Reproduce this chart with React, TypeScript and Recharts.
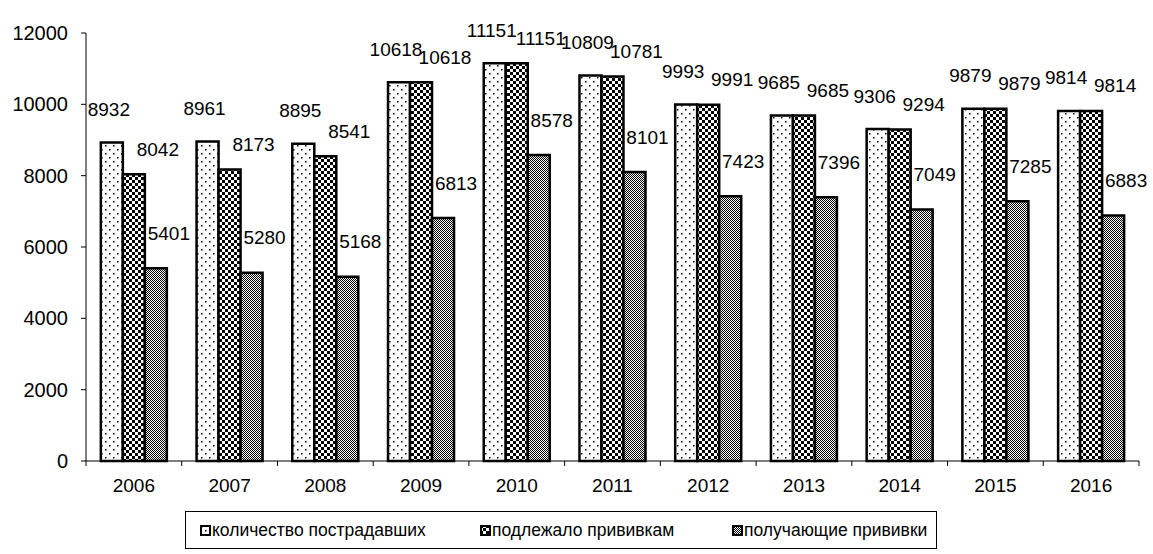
import React from 'react'
import { BarChart, Bar, XAxis, YAxis, LabelList } from 'recharts'

const years = ['2006', '2007', '2008', '2009', '2010', '2011', '2012', '2013', '2014', '2015', '2016']
const injured = [8932, 8961, 8895, 10618, 11151, 10809, 9993, 9685, 9306, 9879, 9814]
const toVaccinate = [8042, 8173, 8541, 10618, 11151, 10781, 9991, 9685, 9294, 9879, 9814]
const vaccinated = [5401, 5280, 5168, 6813, 8578, 8101, 7423, 7396, 7049, 7285, 6883]
const yTicks = [0, 2000, 4000, 6000, 8000, 10000, 12000]
const seriesNames = ['количество пострадавших', 'подлежало прививкам', 'получающие прививки']

const data = years.map((y, i) => ({
  year: y,
  injured: injured[i],
  toVaccinate: toVaccinate[i],
  vaccinated: vaccinated[i],
}))

const W = 1153
const H = 554
const MARGIN = { top: 33, right: 14, bottom: 63, left: 0 }
const Y_WIDTH = 86
const FONT = '"Liberation Sans", Arial, sans-serif'
const bandWidth = (W - Y_WIDTH - MARGIN.right) / years.length

function Patterns({ prefix }: { prefix: string }) {
  return (
    <defs>
      <pattern id={`${prefix}dots`} width="8" height="8" patternUnits="userSpaceOnUse">
        <rect width="8" height="8" fill="#fff" />
        <rect x="1" y="1" width="1.5" height="1.5" fill="#000" />
        <rect x="5" y="5" width="1.5" height="1.5" fill="#000" />
      </pattern>
      <pattern id={`${prefix}check`} width="6" height="6" patternUnits="userSpaceOnUse">
        <rect width="6" height="6" fill="#fff" />
        <rect x="0" y="0" width="3" height="3" fill="#000" />
        <rect x="3" y="3" width="3" height="3" fill="#000" />
      </pattern>
      <pattern id={`${prefix}fine`} width="2" height="2" patternUnits="userSpaceOnUse">
        <rect width="2" height="2" fill="#fff" />
        <rect x="0" y="0" width="1" height="1" fill="#000" />
        <rect x="1" y="1" width="1" height="1" fill="#000" />
      </pattern>
    </defs>
  )
}

function makeLabel(dx: number, dy: number) {
  return (props: any) => {
    const { x, y, width, value } = props
    return (
      <text
        x={Number(x) + Number(width) / 2 + dx}
        y={Number(y) + dy}
        textAnchor="middle"
        dominantBaseline="central"
        fontFamily={FONT}
        fontSize={19}
        fill="#000"
      >
        {value}
      </text>
    )
  }
}

function YearTick(props: any) {
  const { x, y, payload, index } = props
  const half = bandWidth / 2
  return (
    <g>
      <line x1={x - half} y1={y} x2={x - half} y2={y + 5} stroke="#000" />
      {index === years.length - 1 && (
        <line x1={x + half} y1={y} x2={x + half} y2={y + 5} stroke="#000" />
      )}
      <text x={x} y={y + 24} textAnchor="middle" dominantBaseline="central" fontFamily={FONT} fontSize={19} fill="#000">
        {payload.value}
      </text>
    </g>
  )
}

const legendLefts = [14, 294, 546]

function LegendBox() {
  const fills = ['lgdots', 'lgcheck', 'lgfine']
  return (
    <div
      style={{
        position: 'absolute',
        left: 185,
        top: 511,
        width: 752,
        height: 38,
        boxSizing: 'border-box',
        border: '1px solid #000',
        fontFamily: FONT,
        fontSize: 17.5,
        color: '#000',
      }}
    >
      <svg width="0" height="0" style={{ position: 'absolute' }}>
        <Patterns prefix="lg" />
      </svg>
      {seriesNames.map((name, i) => (
        <div
          key={name}
          style={{
            position: 'absolute',
            left: legendLefts[i],
            top: 0,
            height: 36,
            display: 'flex',
            alignItems: 'center',
            whiteSpace: 'nowrap',
          }}
        >
          <svg width="11" height="11" style={{ marginRight: 1 }}>
            <rect x="1" y="1" width="9" height="9" fill={`url(#${fills[i]})`} stroke="#000" strokeWidth="2" />
          </svg>
          <span>{name}</span>
        </div>
      ))}
    </div>
  )
}

export default function App() {
  return (
    <div style={{ position: 'absolute', left: 0, top: 0, width: W, height: H, background: '#fff' }}>
      <BarChart width={W} height={H} data={data} margin={MARGIN} barGap={0} barCategoryGap="15.5%">
        <Patterns prefix="ch" />
        <XAxis
          dataKey="year"
          tickLine={false}
          tickSize={0}
          tickMargin={0}
          axisLine={{ stroke: '#000' }}
          tick={<YearTick />}
          interval={0}
          height={30}
        />
        <YAxis
          width={Y_WIDTH}
          domain={[0, 12000]}
          ticks={yTicks}
          interval={0}
          axisLine={{ stroke: '#000' }}
          tickLine={{ stroke: '#000' }}
          tickSize={5}
          tickMargin={13}
          tick={{ fontFamily: FONT, fontSize: 20, fill: '#000' }}
        />
        <Bar dataKey="injured" fill="url(#chdots)" stroke="#000" strokeWidth={2.5} isAnimationActive={false}>
          <LabelList dataKey="injured" content={makeLabel(-3, -33)} />
        </Bar>
        <Bar dataKey="toVaccinate" fill="url(#chcheck)" stroke="#000" strokeWidth={2.5} isAnimationActive={false}>
          <LabelList dataKey="toVaccinate" content={makeLabel(24, -25)} />
        </Bar>
        <Bar dataKey="vaccinated" fill="url(#chfine)" stroke="#000" strokeWidth={2.5} isAnimationActive={false}>
          <LabelList dataKey="vaccinated" content={makeLabel(13, -35)} />
        </Bar>
      </BarChart>
      <LegendBox />
    </div>
  )
}
